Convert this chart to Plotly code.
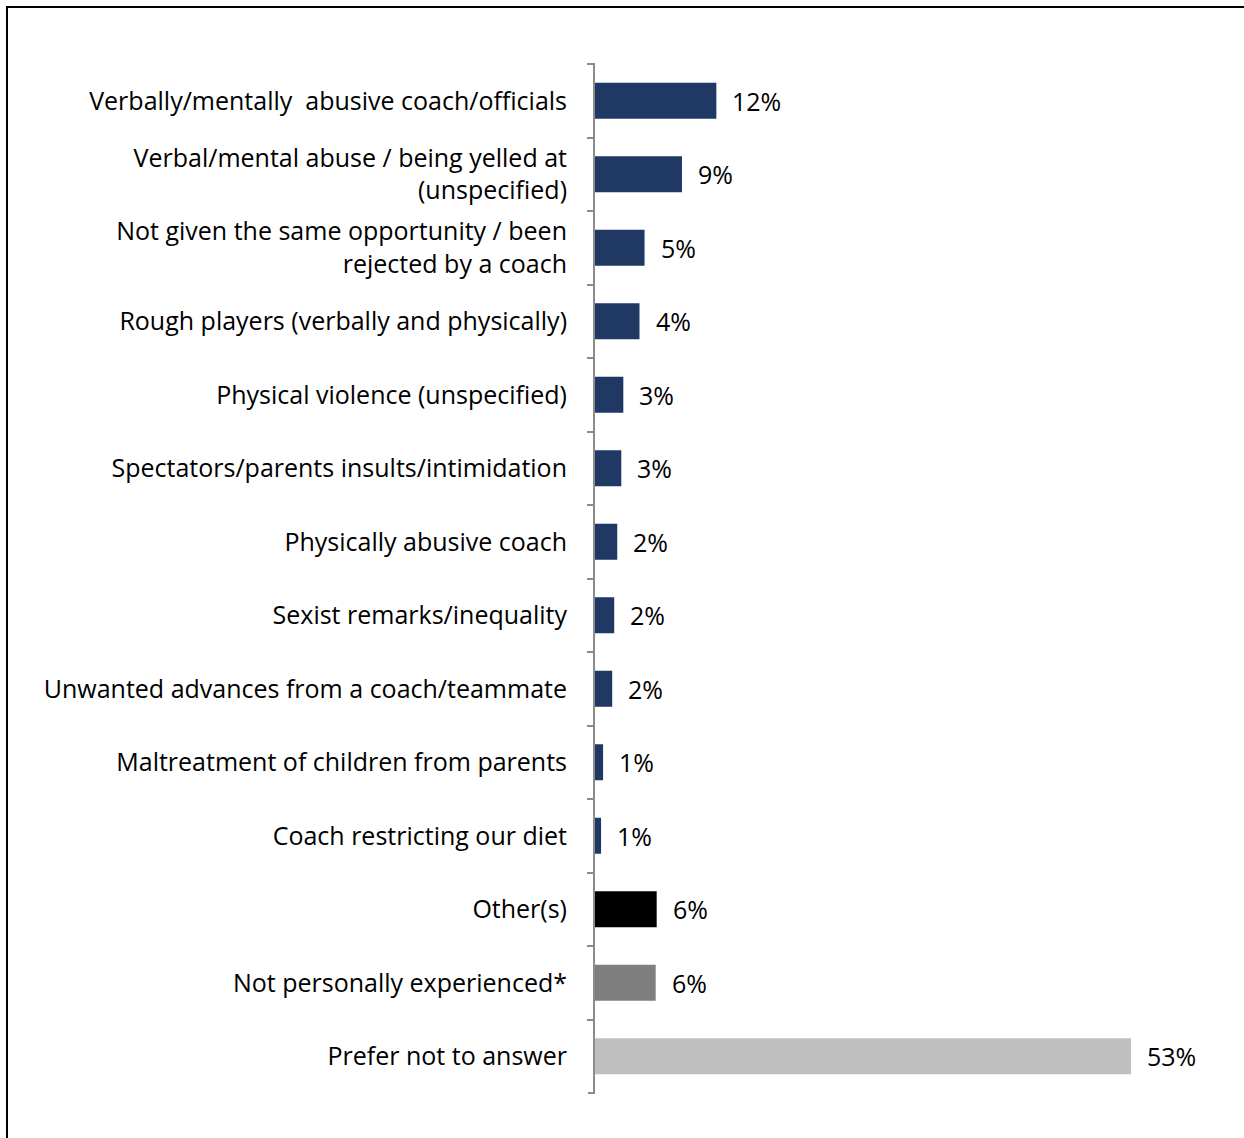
import plotly.graph_objects as go

# Survey categories, top to bottom
categories = [
    "Verbally/mentally  abusive coach/officials",
    "Verbal/mental abuse / being yelled at<br>(unspecified)",
    "Not given the same opportunity / been<br>rejected by a coach",
    "Rough players (verbally and physically)",
    "Physical violence (unspecified)",
    "Spectators/parents insults/intimidation",
    "Physically abusive coach",
    "Sexist remarks/inequality",
    "Unwanted advances from a coach/teammate",
    "Maltreatment of children from parents",
    "Coach restricting our diet",
    "Other(s)",
    "Not personally experienced*",
    "Prefer not to answer",
]

# Share of respondents (%)
values = [12.0, 8.6, 4.9, 4.4, 2.8, 2.6, 2.2, 1.9, 1.7, 0.8, 0.6, 6.1, 6.0, 53.0]

bar_colors = ["#203864"] * 11 + ["#000000", "#7f7f7f", "#bfbfbf"]

W, H = 1244, 1138
L, R, T, B = 595, 24, 64, 45
X_MAX = 61.8
FONT = "Open Sans, Carlito, Calibri, sans-serif"
FS = 25
AXIS_GREY = "#8c8c8c"

fig = go.Figure(
    go.Bar(
        x=values,
        y=categories,
        orientation="h",
        marker=dict(color=bar_colors, line=dict(width=0)),
        width=0.49,
        hoverinfo="skip",
    )
)

# Value labels at the end of each bar
for cat, v in zip(categories, values):
    fig.add_annotation(
        x=v, y=cat, text=f"{v:.0f}%", showarrow=False,
        xanchor="left", yanchor="middle", xshift=14,
        font=dict(family=FONT, size=FS, color="#000000"),
    )

pw, ph = W - L - R, H - T - B

# End ticks at the top and bottom of the category axis
for yp in (0, 1):
    fig.add_shape(
        type="line", xref="paper", yref="paper",
        x0=-7 / pw, x1=0, y0=yp, y1=yp,
        line=dict(color=AXIS_GREY, width=2),
    )

# Outer frame around the chart area
fig.add_shape(
    type="rect", xref="paper", yref="paper",
    x0=(7 - L) / pw, x1=(W + 20 - L) / pw,
    y0=-(H + 20 - (H - B)) / ph, y1=1 + (T - 7) / ph,
    line=dict(color="#000000", width=2), fillcolor="rgba(0,0,0,0)",
)

fig.update_layout(
    width=W, height=H,
    margin=dict(l=L, r=R, t=T, b=B),
    paper_bgcolor="white", plot_bgcolor="white",
    font=dict(family=FONT, size=FS, color="#000000"),
    showlegend=False,
    xaxis=dict(range=[0, X_MAX], visible=False, fixedrange=True),
    yaxis=dict(
        autorange="reversed",
        showline=True, linecolor=AXIS_GREY, linewidth=2,
        ticks="outside", tickson="boundaries", ticklen=6,
        tickcolor=AXIS_GREY, tickwidth=2,
        ticklabelstandoff=21,
        showgrid=False, zeroline=False,
        tickfont=dict(family=FONT, size=FS, color="#000000"),
    ),
)

fig.write_html("out.html")
